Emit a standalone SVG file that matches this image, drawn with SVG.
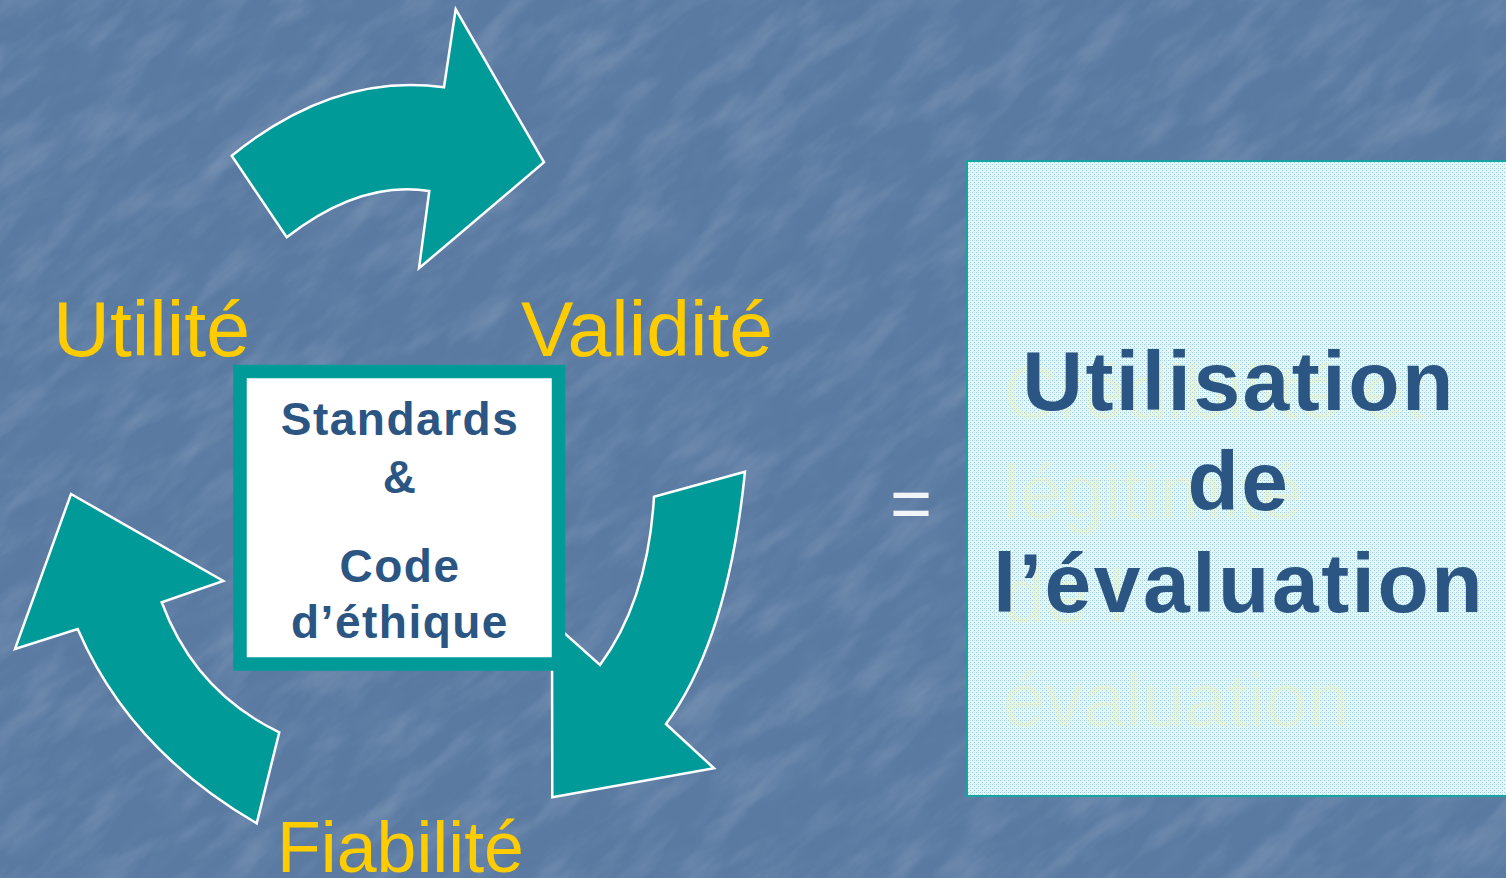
<svg xmlns="http://www.w3.org/2000/svg" width="1506" height="878" viewBox="0 0 1506 878">
<defs>
<style>
.arrow{fill:#009a98;stroke:#ffffff;stroke-width:2.5;stroke-linejoin:miter}
.lbl{font-family:"Liberation Sans",Arial,sans-serif;fill:#ffcc00}
.ctr{font-family:"Liberation Sans",Arial,sans-serif;font-weight:bold;fill:#2b5583;text-anchor:middle;font-size:46px;letter-spacing:1.5px}
.big{font-family:"Liberation Sans",Arial,sans-serif;font-weight:bold;fill:#2b5583;text-anchor:middle;font-size:84px;letter-spacing:2.5px}
.faint{font-family:"Liberation Sans",Arial,sans-serif;fill:#f6f3a8;opacity:0.3;font-size:76px}
</style>
<filter id="tex" x="0" y="0" width="100%" height="100%">
<feTurbulence type="fractalNoise" baseFrequency="0.012 0.04" numOctaves="4" seed="7" result="n"/>
<feColorMatrix in="n" type="matrix" values="0 0 0 0 1  0 0 0 0 1  0 0 0 0 1  1.4 0 0 0 -0.62"/>
</filter>
<filter id="tex2" x="0" y="0" width="100%" height="100%">
<feTurbulence type="fractalNoise" baseFrequency="0.02 0.05" numOctaves="3" seed="21" result="n"/>
<feColorMatrix in="n" type="matrix" values="0 0 0 0 0.2  0 0 0 0 0.3  0 0 0 0 0.45  0 1.4 0 0 -0.62"/>
</filter>
<pattern id="dots" width="4" height="4" patternUnits="userSpaceOnUse">
<rect width="4" height="4" fill="#e0f9fa"/>
<rect x="0" y="0" width="1" height="1" fill="#9fc6da"/>
<rect x="2" y="2" width="1" height="1" fill="#9fc6da"/>
<rect x="2" y="0" width="1" height="1" fill="#c4e2ea"/>
</pattern>
</defs>

<g id="background">
<rect width="1506" height="878" fill="#5a7aa2"/>
<g transform="rotate(-40 753 439)" opacity="0.22">
<rect x="-600" y="-600" width="2700" height="2100" filter="url(#tex)"/>
</g>
<g transform="rotate(-40 753 439)" opacity="0.3">
<rect x="-600" y="-600" width="2700" height="2100" filter="url(#tex2)"/>
</g>
</g>

<g id="connectors">
<path id="arrow-top" class="arrow" d="M231.7,155.7 Q335,72 444,87.3 L455.7,9.3 L544,162.3 L419,268.3 L429.3,191 Q360,180 286.7,237.3 Z"/>
<path id="arrow-right" class="arrow" d="M745,471.7 L654,496.7 Q648,600 600,665 L552,622 L552.3,797.3 L714,768.3 L666,724 Q728,640 745,471.7 Z"/>
<path id="arrow-left" class="arrow" d="M71,494 L223.3,581 L161.7,602.3 Q195,692 279.3,732.3 L256.7,823.3 Q130,750 77.7,629 L15,649 Z"/>
</g>

<g id="label-utilite">
<text class="lbl" x="53" y="356" font-size="78" textLength="197" lengthAdjust="spacingAndGlyphs">Utilité</text>
</g>
<g id="label-validite">
<text class="lbl" x="521" y="356" font-size="78" textLength="252" lengthAdjust="spacingAndGlyphs">Validité</text>
</g>
<g id="label-fiabilite">
<text class="lbl" x="277" y="872" font-size="72" textLength="247" lengthAdjust="spacingAndGlyphs">Fiabilité</text>
</g>

<g id="standards-box">
<rect x="240" y="371.5" width="318.5" height="292.5" fill="#ffffff" stroke="#009a98" stroke-width="13.5"/>
<text class="ctr" x="400" y="435">Standards</text>
<text class="ctr" x="400" y="493">&amp;</text>
<text class="ctr" x="400" y="582">Code</text>
<text class="ctr" x="400" y="638">d’éthique</text>
</g>

<g id="equals">
<text x="911" y="528" font-family="Liberation Sans, Arial, sans-serif" font-size="72" fill="#f2f5f8" text-anchor="middle">=</text>
</g>

<g id="result-box">
<rect x="967" y="161" width="545" height="635" fill="url(#dots)" stroke="#17a3a0" stroke-width="2"/>
<text class="faint" x="1003" y="418">Crédibilité et</text>
<text class="faint" x="1003" y="518">légitimité</text>
<text class="faint" x="1003" y="622">de l’</text>
<text class="faint" x="1003" y="726">évaluation</text>
<text class="big" x="1239" y="410">Utilisation</text>
<text class="big" x="1239" y="510">de</text>
<text class="big" x="1239" y="612">l’évaluation</text>
</g>
</svg>
